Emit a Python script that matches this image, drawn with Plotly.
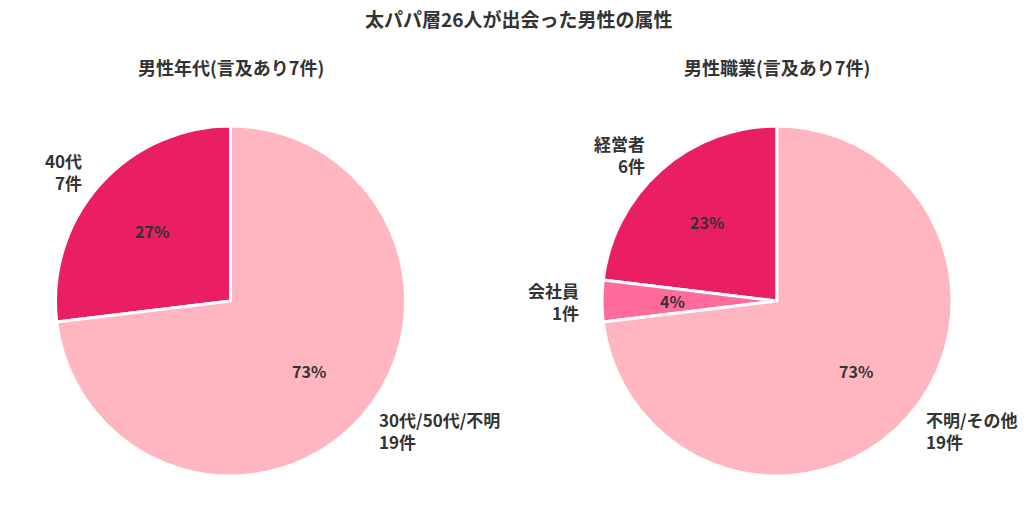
import math
import plotly.graph_objects as go

W, H = 1024, 532

title = "太パパ層26人が出会った男性の属性"

age_title = "男性年代(言及あり7件)"
age_labels = ["40代", "30代/50代/不明"]
age_values = [7, 19]
age_colors = ["#E91E63", "#FFB6C1"]

job_title = "男性職業(言及あり7件)"
job_labels = ["経営者", "会社員", "不明/その他"]
job_values = [6, 1, 19]
job_colors = ["#E91E63", "#FF6B9A", "#FFB6C1"]

FONT = "Noto Sans CJK JP"
TXT = "#333333"
R = 175  # pie radius in px
CY = 301  # pie centre (px from top)
centres = [230.5, 777]

fig = go.Figure()
annotations = []

for cx, sub, labels, values, colors in [
    (centres[0], age_title, age_labels, age_values, age_colors),
    (centres[1], job_title, job_labels, job_values, job_colors),
]:
    total = sum(values)
    # plotly's ccw pie ends the first slice at `rotation`; shift it so the
    # first slice starts at 12 o'clock and runs to the left
    fig.add_trace(go.Pie(
        labels=labels,
        values=values,
        sort=False,
        direction="counterclockwise",
        rotation=-360.0 * values[0] / total,
        marker=dict(colors=colors, line=dict(color="white", width=3)),
        textinfo="none",
        hoverinfo="label+value+percent",
        showlegend=False,
        domain=dict(x=[(cx - R) / W, (cx + R) / W],
                    y=[(H - CY - R) / H, (H - CY + R) / H]),
    ))

    # subtitle above each pie
    annotations.append(dict(
        x=cx / W, y=1 - 67 / H, xref="paper", yref="paper",
        text=sub, showarrow=False, xanchor="center", yanchor="middle",
        font=dict(family=FONT, size=18, color=TXT, weight="bold"),
    ))

    # percent inside, label + count outside, at mid-angle of each slice
    start = 90.0
    for lab, v in zip(labels, values):
        span = 360.0 * v / total
        mid = math.radians(start + span / 2)
        start += span
        c, s = math.cos(mid), math.sin(mid)

        annotations.append(dict(
            x=(cx + 0.6 * R * c) / W, y=(H - CY + 0.6 * R * s) / H,
            xref="paper", yref="paper", showarrow=False,
            text=f"{round(100 * v / total)}%",
            xanchor="center", yanchor="middle",
            font=dict(family=FONT, size=16, color=TXT, weight="bold"),
        ))

        side = "right" if c < 0 else "left"
        annotations.append(dict(
            x=(cx + 1.12 * R * c) / W, y=(H - CY + 1.12 * R * s) / H,
            xref="paper", yref="paper", showarrow=False,
            text=f"{lab}<br>{v}件", align=side,
            xanchor=side, yanchor="middle",
            font=dict(family=FONT, size=17, color=TXT, weight="bold"),
        ))

annotations.append(dict(
    x=0.506, y=1 - 19 / H, xref="paper", yref="paper",
    text=title, showarrow=False, xanchor="center", yanchor="middle",
    font=dict(family=FONT, size=19, color=TXT, weight="bold"),
))

fig.update_layout(
    width=W, height=H,
    margin=dict(l=0, r=0, t=0, b=0),
    paper_bgcolor="white",
    plot_bgcolor="white",
    annotations=annotations,
)

fig.write_html("out.html", config={"displayModeBar": False},
               post_script="document.body.style.margin='0';")
